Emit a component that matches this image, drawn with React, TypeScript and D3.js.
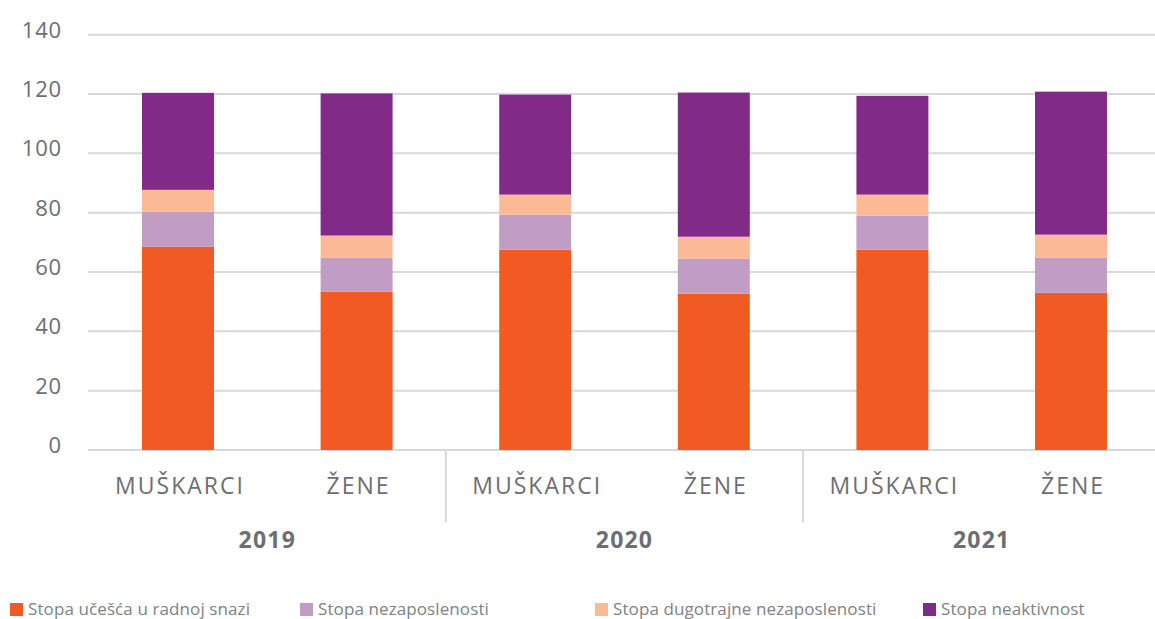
import React from "react";
import * as d3 from "d3";

const years = ["2019", "2020", "2021"];
const genders = ["MUŠKARCI", "ŽENE"];
const seriesNames = [
  "Stopa učešća u radnoj snazi",
  "Stopa nezaposlenosti",
  "Stopa dugotrajne nezaposlenosti",
  "Stopa neaktivnost",
];
const participation = [68.5, 53.4, 67.5, 52.7, 67.5, 53.0];
const unemployment = [11.8, 11.4, 11.8, 11.8, 11.5, 11.8];
const longTerm = [7.4, 7.5, 6.8, 7.4, 7.1, 7.8];
const inactivity = [32.7, 47.9, 33.7, 48.6, 33.3, 48.2];
const yTicks = [0, 20, 40, 60, 80, 100, 120, 140];

const colors = ["#F15A22", "#C19DC5", "#FBB996", "#812A87"];
const keys = ["p", "u", "l", "i"];

const W = 1155;
const H = 619;

export default function App() {
  const rows = participation.map((_, i) => ({
    idx: String(i),
    p: participation[i],
    u: unemployment[i],
    l: longTerm[i],
    i: inactivity[i],
  }));
  const stacked = d3.stack<any>().keys(keys)(rows);
  const x = d3
    .scaleBand<string>()
    .domain(rows.map((r) => r.idx))
    .range([88.7, 1160.3])
    .paddingInner(0.597)
    .paddingOuter(0.2985);
  const y = d3.scaleLinear().domain([0, 140]).range([450, 34.7]);
  const step = x.step();
  const x0 = 88.7;
  const textColor = "#6D6E71";
  const font = "'Open Sans', sans-serif";

  const legendItems = [
    { sx: 10, tx: 28 },
    { sx: 300, tx: 318 },
    { sx: 595, tx: 613 },
    { sx: 923, tx: 941 },
  ];

  return (
    <svg
      width={W}
      height={H}
      style={{ position: "absolute", left: 0, top: 0, background: "#fff" }}
      fontFamily={font}
    >
      {yTicks.map((t) => (
        <g key={t}>
          <line x1={88} x2={W} y1={y(t)} y2={y(t)} stroke="#D9D9D9" strokeWidth={2} />
          <text
            x={62}
            y={y(t) - 3}
            textAnchor="end"
            dominantBaseline="middle"
            fontSize={22}
            letterSpacing={0.8}
            fill={textColor}
          >
            {t}
          </text>
        </g>
      ))}
      {stacked.map((s, si) => (
        <g key={si} fill={colors[si]}>
          {s.map((d, di) => (
            <rect
              key={di}
              x={x(String(di))}
              width={x.bandwidth()}
              y={y(d[1])}
              height={y(d[0]) - y(d[1])}
            />
          ))}
        </g>
      ))}
      {[1, 2].map((k) => (
        <line
          key={k}
          x1={x0 + step * 2 * k}
          x2={x0 + step * 2 * k}
          y1={450}
          y2={522}
          stroke="#D9D9D9"
          strokeWidth={2}
        />
      ))}
      {rows.map((r, i) => (
        <text
          key={i}
          x={(x(r.idx) as number) + x.bandwidth() / 2 + 2}
          y={488}
          textAnchor="middle"
          dominantBaseline="middle"
          fontSize={23}
          letterSpacing={2}
          fill={textColor}
        >
          {genders[i % 2]}
        </text>
      ))}
      {years.map((yr, i) => (
        <text
          key={yr}
          x={x0 + step * (2 * i + 1)}
          y={542}
          textAnchor="middle"
          dominantBaseline="middle"
          fontSize={23}
          letterSpacing={1.2}
          fontWeight="bold"
          fill={textColor}
        >
          {yr}
        </text>
      ))}
      {seriesNames.map((n, i) => (
        <g key={n}>
          <rect x={legendItems[i].sx} y={603} width={13} height={13} fill={colors[i]} />
          <text
            x={legendItems[i].tx}
            y={610}
            dominantBaseline="middle"
            fontSize={17}
            letterSpacing={0.1}
            fill="#808285"
          >
            {n}
          </text>
        </g>
      ))}
    </svg>
  );
}
